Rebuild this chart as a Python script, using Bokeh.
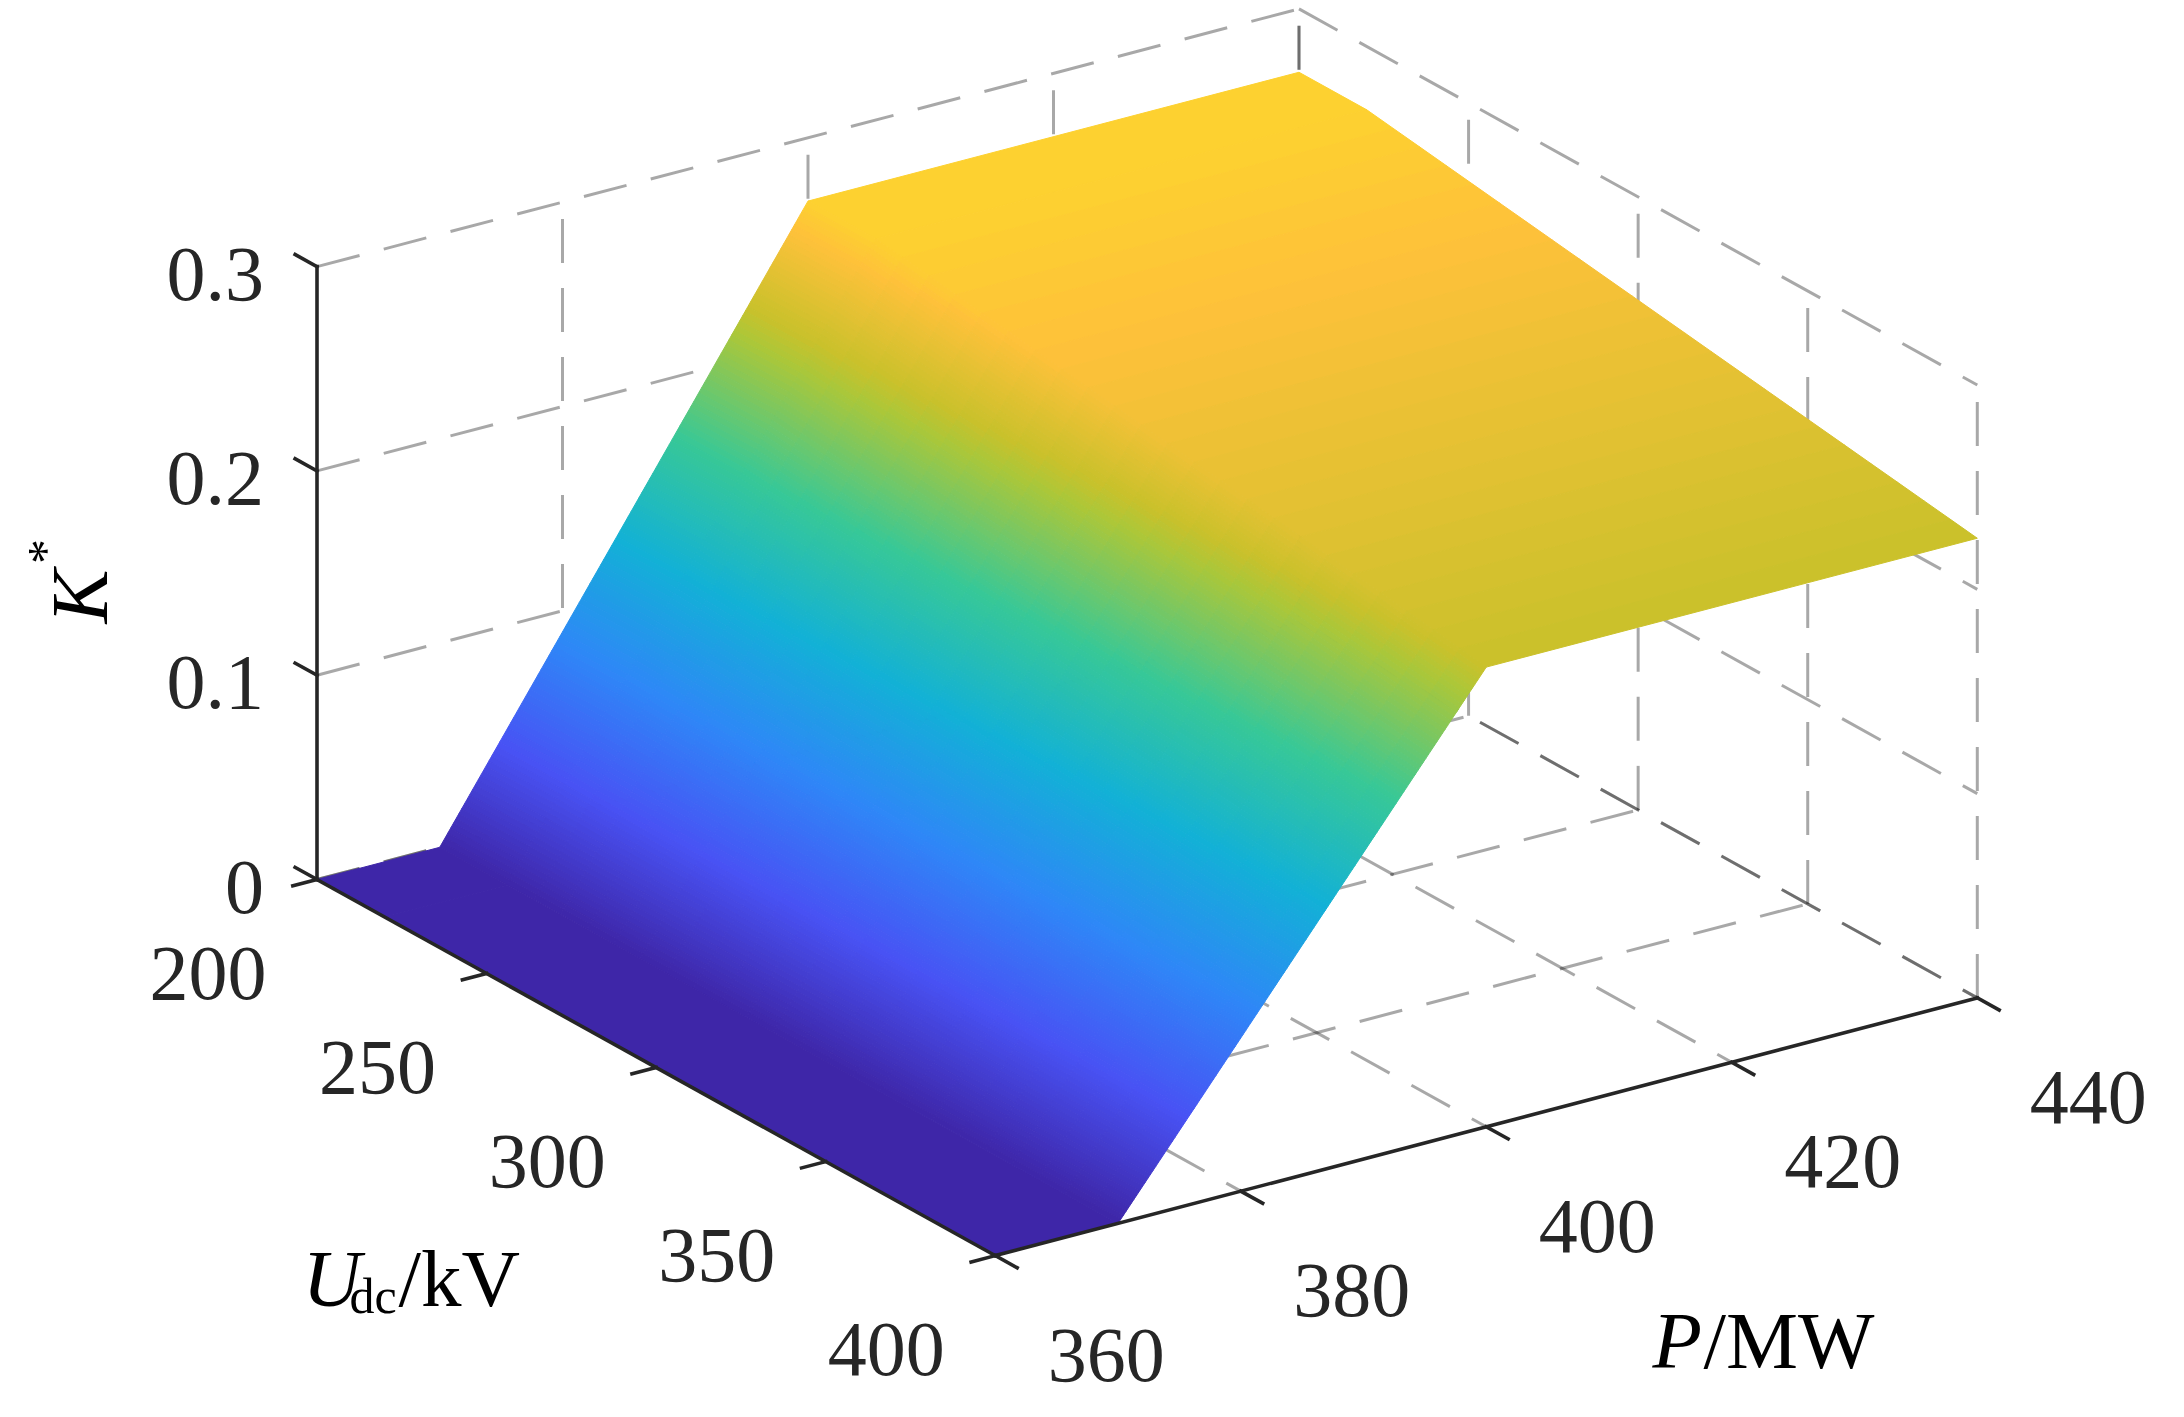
import math
import numpy as np
from bokeh.plotting import figure
from bokeh.models import Range1d
from bokeh.embed import file_html
from bokeh.resources import INLINE
from bokeh.core.properties import value

# ---------------- data ----------------
udc_kv = [200, 220, 400]                 # Udc grid (kV)
p_mw = [360, 370, 400, 440]              # P grid (MW)
k_at_udc200 = [0.0, 0.0, 0.269, 0.269]   # K* along P for Udc = 200
k_at_udc220 = [0.0, 0.0, 0.269, 0.269]   # K* along P for Udc = 220
k_at_udc400 = [0.0, 0.0, 0.225, 0.225]   # K* along P for Udc = 400

udc_ticks = [200, 250, 300, 350, 400]
p_ticks = [360, 380, 400, 420, 440]
k_ticks = [0.0, 0.1, 0.2, 0.3]
udc_tick_labels = ["200", "250", "300", "350", "400"]
p_tick_labels = ["360", "380", "400", "420", "440"]
k_tick_labels = ["0", "0.1", "0.2", "0.3"]

U_LIM = (200, 400)
P_LIM = (360, 440)
Z_LIM = (0.0, 0.3)
C_LIM = (0.0, 0.3)

K = np.array([k_at_udc200, k_at_udc220, k_at_udc400])

# ---------------- view: 3-D box projected to page pixels ----------------
ORIGIN = (324.5, 903.0)        # page position of (Udc=200, P=360, K=0)
E_U = (3.3915, 1.8805)         # px per kV
E_P = (12.275, -3.221)         # px per MW
E_Z = (0.0, -2043.0)           # px per unit K


def proj(u, p, z):
    u = np.asarray(u, float)
    p = np.asarray(p, float)
    z = np.asarray(z, float)
    x = ORIGIN[0] + (u - U_LIM[0]) * E_U[0] + (p - P_LIM[0]) * E_P[0] + z * E_Z[0]
    y = ORIGIN[1] + (u - U_LIM[0]) * E_U[1] + (p - P_LIM[0]) * E_P[1] + z * E_Z[1]
    return x, y


def unit(v):
    n = math.hypot(v[0], v[1])
    return (v[0] / n, v[1] / n)


# parula-like colormap anchors
CMAP = [
    (0.000, (62, 38, 168)),
    (0.143, (72, 82, 244)),
    (0.286, (46, 135, 247)),
    (0.429, (18, 177, 214)),
    (0.571, (55, 200, 151)),
    (0.714, (171, 199, 57)),
    (0.750, (201, 193, 43)),
    (0.857, (254, 193, 58)),
    (1.000, (249, 251, 21)),
]


def cmap(z):
    t = (z - C_LIM[0]) / (C_LIM[1] - C_LIM[0])
    t = min(max(t, 0.0), 1.0)
    for (t0, c0), (t1, c1) in zip(CMAP[:-1], CMAP[1:]):
        if t <= t1:
            f = (t - t0) / (t1 - t0)
            r = [int(round(c0[k] + f * (c1[k] - c0[k]))) for k in range(3)]
            return "#%02x%02x%02x" % tuple(r)
    return "#%02x%02x%02x" % CMAP[-1][1]


SHIFT = 16  # content drawn SHIFT px higher so the lowest labels keep clear of the page edge
p = figure(width=2168, height=1401, x_range=Range1d(8, 2176),
           y_range=Range1d(1409 + SHIFT, 8 + SHIFT),
           output_backend="svg", toolbar_location=None, min_border=0,
           x_axis_type=None, y_axis_type=None)
p.grid.visible = False
p.outline_line_color = None
p.background_fill_color = "white"
p.border_fill_color = "white"

# ---------------- grid (back walls + floor) ----------------
gx, gy = [], []


def seg(a, b):
    x, y = proj([a[0], b[0]], [a[1], b[1]], [a[2], b[2]])
    gx.append(list(x))
    gy.append(list(y))


# wall Udc = 200
for z in k_ticks:
    seg((U_LIM[0], P_LIM[0], z), (U_LIM[0], P_LIM[1], z))
for pv in p_ticks[1:]:
    seg((U_LIM[0], pv, Z_LIM[0]), (U_LIM[0], pv, Z_LIM[1]))
# wall P = 440
for z in k_ticks:
    seg((U_LIM[0], P_LIM[1], z), (U_LIM[1], P_LIM[1], z))
for uv in udc_ticks:
    seg((uv, P_LIM[1], Z_LIM[0]), (uv, P_LIM[1], Z_LIM[1]))
# floor K = 0
for uv in udc_ticks[:-1]:
    seg((uv, P_LIM[0], 0.0), (uv, P_LIM[1], 0.0))
for pv in p_ticks[1:]:
    seg((U_LIM[0], pv, 0.0), (U_LIM[1], pv, 0.0))

p.multi_line(gx, gy, line_color="black", line_alpha=0.34, line_width=3.0, line_dash="44 25")

# ---------------- surface ----------------
polys = []
STEP = 0.002
for i in range(len(udc_kv) - 1):
    for j in range(len(p_mw) - 1):
        u0, u1 = udc_kv[i], udc_kv[i + 1]
        p0, p1 = p_mw[j], p_mw[j + 1]
        z00, z01, z10, z11 = K[i, j], K[i, j + 1], K[i + 1, j], K[i + 1, j + 1]
        nU = max(1, int(math.ceil(max(abs(z10 - z00), abs(z11 - z01)) / STEP)))
        nP = max(1, int(math.ceil(max(abs(z01 - z00), abs(z11 - z10)) / STEP)))

        def zb(s, t):
            return (z00 * (1 - s) * (1 - t) + z10 * s * (1 - t)
                    + z01 * (1 - s) * t + z11 * s * t)

        for a in range(nU):
            for b in range(nP):
                s0, s1 = a / nU, (a + 1) / nU
                t0, t1 = b / nP, (b + 1) / nP
                cs = [(s0, t0), (s1, t0), (s1, t1), (s0, t1)]
                uu = [u0 + s * (u1 - u0) for s, t in cs]
                pp = [p0 + t * (p1 - p0) for s, t in cs]
                zz = [zb(s, t) for s, t in cs]
                x, y = proj(uu, pp, zz)
                zc = zb((s0 + s1) / 2, (t0 + t1) / 2)
                uc = (uu[0] + uu[2]) / 2
                pc = (pp[0] + pp[2]) / 2
                depth = (pc - P_LIM[0]) / 80.0 - (uc - U_LIM[0]) / 200.0
                polys.append((depth, list(x), list(y), cmap(zc)))

polys.sort(key=lambda r: -r[0])
p.patches([r[1] for r in polys], [r[2] for r in polys],
          fill_color=[r[3] for r in polys], line_color=[r[3] for r in polys],
          line_width=1.0)

# ---------------- axes lines and ticks ----------------
AX = "#262626"
ax_x, ax_y = [], []


def aseg(x0, y0, x1, y1):
    ax_x.append([x0, x1])
    ax_y.append([y0, y1])


x0, y0 = proj(U_LIM[0], P_LIM[0], Z_LIM[0]); x1, y1 = proj(U_LIM[0], P_LIM[0], Z_LIM[1])
aseg(float(x0), float(y0), float(x1), float(y1))
x0, y0 = proj(U_LIM[0], P_LIM[0], 0); x1, y1 = proj(U_LIM[1], P_LIM[0], 0)
aseg(float(x0), float(y0), float(x1), float(y1))
x0, y0 = proj(U_LIM[1], P_LIM[0], 0); x1, y1 = proj(U_LIM[1], P_LIM[1], 0)
aseg(float(x0), float(y0), float(x1), float(y1))

TL = 25.0
du = unit(E_U)
dp = unit(E_P)
for z in k_ticks:
    x, y = proj(U_LIM[0], P_LIM[0], z)
    aseg(float(x), float(y), float(x) - TL * du[0], float(y) - TL * du[1])
for uv in udc_ticks:
    x, y = proj(uv, P_LIM[0], 0)
    aseg(float(x), float(y), float(x) - TL * dp[0], float(y) - TL * dp[1])
for pv in p_ticks:
    x, y = proj(U_LIM[1], pv, 0)
    aseg(float(x), float(y), float(x) + TL * du[0], float(y) + TL * du[1])

p.multi_line(ax_x, ax_y, line_color=AX, line_width=3.6, line_cap="square")

# ---------------- tick labels ----------------
FONT = value("Liberation Serif")
TFS = 78
BL = 0.34 * TFS

zx, zy = [], []
for z in k_ticks:
    x, y = proj(U_LIM[0], P_LIM[0], z)
    zx.append(float(x) - 53.0)
    zy.append(float(y) - 19.0 + BL)
p.text(zx, zy, text=k_tick_labels, text_font=FONT, text_font_size=value("%dpx" % TFS),
       text_color=AX, text_align="right", text_baseline="alphabetic")

ux, uy = [], []
for uv in udc_ticks:
    x, y = proj(uv, P_LIM[0], 0)
    ux.append(float(x) - 109.0)
    uy.append(float(y) + 67.0 + BL)
p.text(ux, uy, text=udc_tick_labels, text_font=FONT, text_font_size=value("%dpx" % TFS),
       text_color=AX, text_align="center", text_baseline="alphabetic")

px_, py_ = [], []
for pv in p_ticks:
    x, y = proj(U_LIM[1], pv, 0)
    px_.append(float(x) + 111.0)
    py_.append(float(y) + 73.0 + BL)
p.text(px_, py_, text=p_tick_labels, text_font=FONT, text_font_size=value("%dpx" % TFS),
       text_color=AX, text_align="center", text_baseline="alphabetic")

# ---------------- axis labels ----------------
LFS = value("81px")
# K*
p.text([87], [620], text=["K"], text_font=FONT, text_font_size=LFS, text_font_style="italic",
       text_color="black", text_align="center", text_baseline="alphabetic", angle=math.pi / 2)
p.text([52], [575], text=["*"], text_font=FONT, text_font_size=value("50px"),
       text_color="black", text_align="center", text_baseline="alphabetic", angle=math.pi / 2)
# Udc/kV
p.text([310], [1302], text=["U"], text_font=FONT, text_font_size=LFS, text_font_style="italic",
       text_color="black", text_align="left", text_baseline="alphabetic")
p.text([357], [1319], text=["dc"], text_font=FONT, text_font_size=value("50px"),
       text_color="black", text_align="left", text_baseline="alphabetic")
p.text([406], [1302], text=["/kV"], text_font=FONT, text_font_size=LFS,
       text_color="black", text_align="left", text_baseline="alphabetic")
# P/MW
p.text([1660], [1364], text=["P"], text_font=FONT, text_font_size=LFS, text_font_style="italic",
       text_color="black", text_align="left", text_baseline="alphabetic")
p.text([1711], [1364], text=["/MW"], text_font=FONT, text_font_size=LFS,
       text_color="black", text_align="left", text_baseline="alphabetic")

open("out.html", "w").write(file_html(p, INLINE))
